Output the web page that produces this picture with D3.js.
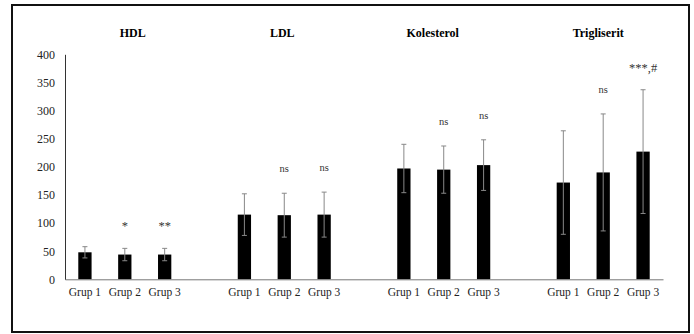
<!DOCTYPE html>
<html lang="id">
<head>
    <meta charset="UTF-8">
    <title>HDL, LDL, Kolesterol, Trigliserit</title>
    <script src="https://cdn.jsdelivr.net/npm/d3@7"></script>
</head>
<style>
    body { margin: 0; background: #fff; }
    .axis text { fill: #222; }
    .title { font-weight: bold; font-size: 12px; text-anchor: middle; }
    .sig { font-size: 10.5px; fill: #333; text-anchor: middle; }
    .stars { font-size: 12.5px; }
</style>
<body>
<script>
    var width = 694;
    var height = 334;

    // data
    var panels = ['HDL', 'LDL', 'Kolesterol', 'Trigliserit'];
    var groups = ['Grup 1', 'Grup 2', 'Grup 3'];
    var means = [
        [48, 44, 44],
        [115, 114, 115],
        [197, 195, 203],
        [172, 190, 227]
    ];
    var sds = [
        [10, 11, 11],
        [37, 39, 40],
        [43, 42, 45],
        [92, 104, 110]
    ];
    var sigLabels = [
        ['', '*', '**'],
        ['', 'ns', 'ns'],
        ['', 'ns', 'ns'],
        ['', 'ns', '***,#']
    ];
    var yTicks = [0, 50, 100, 150, 200, 250, 300, 350, 400];

    var svg = d3.select('body')
        .append('svg')
        .attr('width', width)
        .attr('height', height)

    svg.append('rect')
        .attr('x', 12).attr('y', 5)
        .attr('width', 677).attr('height', 327)
        .attr('fill', 'none')
        .attr('stroke', '#111')
        .attr('stroke-width', 2)

    var plot = {left: 65, right: 663, top: 54.3, bottom: 279.3}
    // titles were placed by hand in the original, not exactly centred
    var titleDx = [8, -2, -11, -5];

    // 4 slots per panel, the last one left empty (as in the original sheet)
    var nSlots = panels.length * 4 - 1;
    var xScale = d3.scaleBand()
        .domain(d3.range(nSlots))
        .range([plot.left, plot.right])
        .paddingInner(2 / 3)
        .paddingOuter(1 / 3)

    var yScale = d3.scaleLinear()
        .domain([0, 400])
        .range([plot.bottom, plot.top])

    var rows = [];
    panels.forEach(function (p, pi) {
        groups.forEach(function (g, gi) {
            rows.push({
                panel: pi, group: g, slot: pi * 4 + gi,
                mean: means[pi][gi], sd: sds[pi][gi], sig: sigLabels[pi][gi]
            })
        })
    })

    // bars
    svg.selectAll('.bar')
        .data(rows)
        .enter()
        .append('rect')
        .attr('class', 'bar')
        .attr('x', function (d) { return xScale(d.slot) })
        .attr('width', xScale.bandwidth())
        .attr('y', function (d) { return yScale(d.mean) })
        .attr('height', function (d) { return yScale(0) - yScale(d.mean) })
        .attr('fill', '#000')

    // error bars
    var cx = function (d) { return xScale(d.slot) + xScale.bandwidth() / 2 }
    var err = svg.selectAll('.err')
        .data(rows)
        .enter()
        .append('g')
        .attr('class', 'err')
        .attr('stroke', '#888')
        .attr('stroke-width', 1)
    err.append('line')
        .attr('x1', cx).attr('x2', cx)
        .attr('y1', function (d) { return yScale(d.mean - d.sd) })
        .attr('y2', function (d) { return yScale(d.mean + d.sd) })
    err.append('line')
        .attr('x1', function (d) { return cx(d) - 2.5 })
        .attr('x2', function (d) { return cx(d) + 2.5 })
        .attr('y1', function (d) { return yScale(d.mean + d.sd) })
        .attr('y2', function (d) { return yScale(d.mean + d.sd) })
    err.append('line')
        .attr('x1', function (d) { return cx(d) - 2.5 })
        .attr('x2', function (d) { return cx(d) + 2.5 })
        .attr('y1', function (d) { return yScale(d.mean - d.sd) })
        .attr('y2', function (d) { return yScale(d.mean - d.sd) })

    // significance marks
    svg.selectAll('.sig')
        .data(rows.filter(function (d) { return d.sig }))
        .enter()
        .append('text')
        .attr('class', function (d) { return d.sig.indexOf('*') >= 0 ? 'sig stars' : 'sig' })
        .attr('x', cx)
        .attr('y', function (d) {
            return yScale(d.mean + d.sd) - (d.sig.indexOf('*') >= 0 ? 18 : 21)
        })
        .text(function (d) { return d.sig })

    // panel titles
    svg.selectAll('.title')
        .data(panels)
        .enter()
        .append('text')
        .attr('class', 'title')
        .attr('x', function (d, i) { return xScale(i * 4 + 1) + xScale.bandwidth() / 2 + titleDx[i] })
        .attr('y', 37)
        .text(function (d) { return d })

    // axes
    var yAxis = d3.axisLeft(yScale)
        .tickValues(yTicks)
        .tickSize(0)
        .tickPadding(10)
    svg.append('g')
        .attr('class', 'axis')
        .attr('transform', 'translate(' + plot.left + ',0)')
        .call(yAxis)
        .call(function (g) {
            g.select('.domain').attr('stroke', '#333')
            g.selectAll('text').style('font-size', '12px')
        })

    var xAxis = d3.axisBottom(xScale)
        .tickValues(rows.map(function (d) { return d.slot }))
        .tickFormat(function (s) { return groups[s % 4] })
        .tickSize(0)
        .tickSizeOuter(0)
        .tickPadding(9)
    svg.append('g')
        .attr('class', 'axis')
        .attr('transform', 'translate(0,' + plot.bottom + ')')
        .call(xAxis)
        .call(function (g) {
            g.select('.domain').attr('stroke', '#777')
            g.selectAll('text').style('font-size', '11.5px')
        })

    // serif everywhere, set on each text so the axis default does not win
    svg.selectAll('text').style('font-family', '"Liberation Serif"')
</script>

</body>
</html>
